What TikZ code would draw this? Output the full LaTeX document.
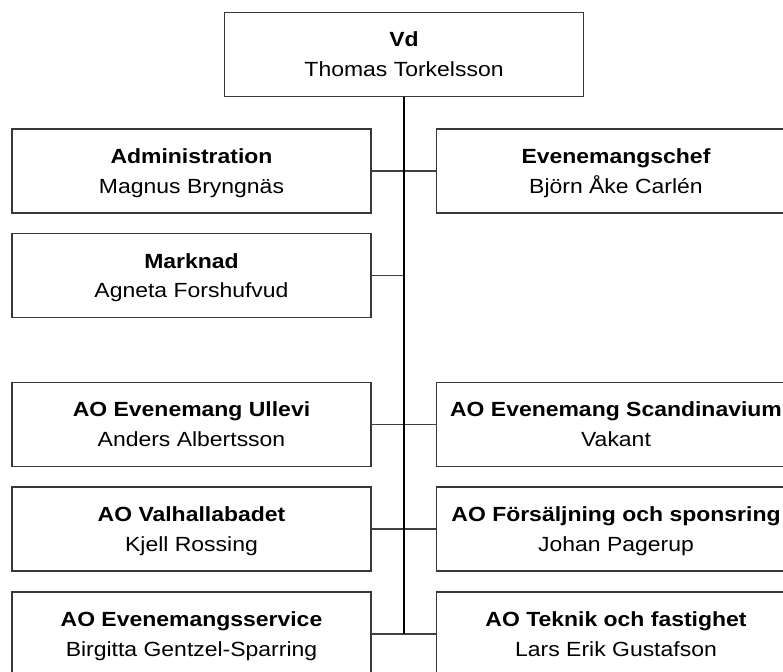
\documentclass[tikz,border=0pt]{standalone}
\usepackage{fontspec}
\setmainfont{Liberation Sans}[FakeStretch=1.12]
\newcommand{\toprule}{\rule{0pt}{19pt}}
\newcommand{\botrule}{\rule[-4.5pt]{0pt}{4.5pt}}
\newcommand{\boxtext}[2]{\toprule\textbf{#1}\\#2\botrule}
\begin{document}
\begin{tikzpicture}[x=1pt,y=-1pt,
  box/.style={draw=black!78,line width=1.3pt,fill=white,minimum width=359pt,minimum height=84pt,inner sep=0pt,align=center,font=\fontsize{20.5}{29.5}\selectfont},
  conn/.style={draw=black!75,line width=1.2pt},
  trunk/.style={draw=black,line width=2pt}]
\useasboundingbox (0,0) rectangle (783,671);
\clip (0,0) rectangle (783,671);
\fill[white] (0,0) rectangle (783,671);
\node[box] (vd) at (404,54.5) {\boxtext{Vd}{Thomas Torkelsson}};
\node[box] (adm) at (191.5,171) {\boxtext{Administration}{Magnus Bryngnäs}};
\node[box] (evc) at (616,171) {\boxtext{Evenemangschef}{Björn Åke Carlén}};
\node[box] (mar) at (191.5,275.5) {\boxtext{Marknad}{Agneta Forshufvud}};
\node[box] (ull) at (191.5,424.3) {\boxtext{AO Evenemang Ullevi}{Anders Albertsson}};
\node[box] (sca) at (616,424.3) {\boxtext{AO Evenemang Scandinavium}{Vakant}};
\node[box] (val) at (191.5,529) {\boxtext{AO Valhallabadet}{Kjell Rossing}};
\node[box] (for) at (616,529) {\boxtext{AO Försäljning och sponsring}{Johan Pagerup}};
\node[box] (ser) at (191.5,634) {\boxtext{AO Evenemangsservice}{Birgitta Gentzel-Sparring}};
\node[box] (tek) at (616,634) {\boxtext{AO Teknik och fastighet}{Lars Erik Gustafson}};
\coordinate (bot) at (vd.south |- ser.east);
\draw[conn] (adm.east) -- (evc.west);
\draw[conn] (mar.east) -- (mar.east -| vd.south);
\draw[conn] (ull.east) -- (sca.west);
\draw[conn] (val.east) -- (for.west);
\draw[conn] (ser.east) -- (tek.west);
\draw[trunk] (vd.south) -- (bot);
\end{tikzpicture}
\end{document}
